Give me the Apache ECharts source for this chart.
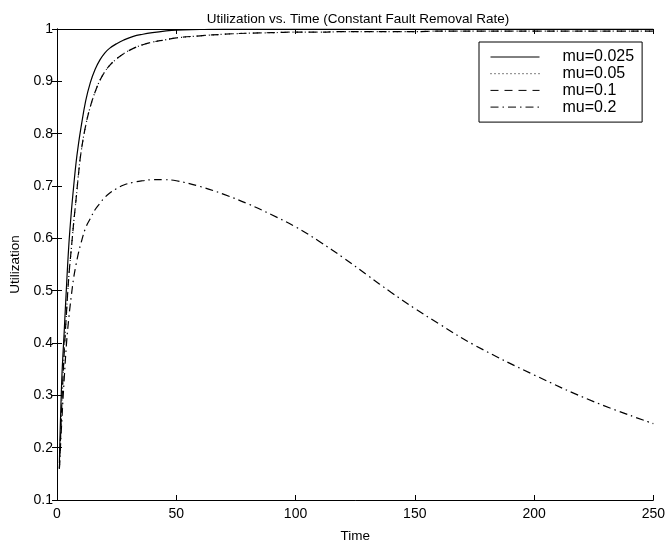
<!DOCTYPE html>
<html>
<head>
<meta charset="utf-8">
<script src="https://cdn.jsdelivr.net/npm/echarts@6/dist/echarts.min.js"></script>
<style>
html,body{margin:0;padding:0;background:#fff;}
#chart{width:668px;height:548px;}
</style>
</head>
<body>
<div id="chart"></div>
<script>
// ---- data ----
const time = [1, 2, 3, 4, 5, 6, 7, 8, 9, 10, 12, 14, 16, 18, 20, 22, 25, 28, 32, 36, 40, 45, 50, 60, 70, 80, 90, 100, 110, 120, 130, 140, 150, 160, 175, 200, 225, 250];
const mu0025 = [0.17, 0.33, 0.42, 0.51, 0.59, 0.65, 0.70, 0.745, 0.78, 0.81, 0.862, 0.898, 0.923, 0.941, 0.954, 0.963, 0.972, 0.979, 0.986, 0.990, 0.993, 0.996, 0.998, 0.999, 1.0, 1.0, 1.0, 1.0, 1.0, 1.0, 1.0, 1.0, 1.0, 1.0, 1.0, 1.0, 1.0, 1.0];
const mu005 = [0.16, 0.28, 0.38, 0.46, 0.53, 0.58, 0.63, 0.675, 0.722, 0.762, 0.815, 0.852, 0.880, 0.902, 0.918, 0.930, 0.943, 0.953, 0.963, 0.970, 0.975, 0.979, 0.983, 0.987, 0.990, 0.992, 0.993, 0.994, 0.994, 0.995, 0.995, 0.995, 0.995, 0.996, 0.996, 0.996, 0.996, 0.996];
const mu01 = [0.16, 0.28, 0.38, 0.46, 0.53, 0.58, 0.63, 0.675, 0.722, 0.762, 0.815, 0.852, 0.880, 0.902, 0.918, 0.930, 0.943, 0.953, 0.963, 0.970, 0.975, 0.979, 0.983, 0.987, 0.990, 0.992, 0.993, 0.994, 0.994, 0.995, 0.995, 0.995, 0.995, 0.996, 0.996, 0.996, 0.996, 0.996];
const mu02 = [0.16, 0.25, 0.33, 0.40, 0.45, 0.49, 0.525, 0.55, 0.572, 0.59, 0.62, 0.638, 0.655, 0.667, 0.678, 0.686, 0.695, 0.702, 0.707, 0.710, 0.712, 0.712, 0.710, 0.699, 0.684, 0.666, 0.645, 0.622, 0.594, 0.563, 0.530, 0.497, 0.466, 0.437, 0.396, 0.339, 0.288, 0.246];
const seriesNames = ['mu=0.025', 'mu=0.05', 'mu=0.1', 'mu=0.2'];
const xTicks = [0, 50, 100, 150, 200, 250];
const yTicks = [0.1, 0.2, 0.3, 0.4, 0.5, 0.6, 0.7, 0.8, 0.9, 1];

const FONT = '"Liberation Sans", Arial, Helvetica, sans-serif';
const pairs = arr => time.map((t, i) => [t, arr[i]]);
const styles = [
  {type: 'solid', width: 1.2},
  {type: [1, 3], width: 1.2},
  {type: [8, 6], width: 1.2},
  {type: [8, 4, 1.5, 4], width: 1.2}
];
const datasets = [mu0025, mu005, mu01, mu02];

const chart = echarts.init(document.getElementById('chart'), null, {renderer: 'canvas'});
const axisCommon = {
  axisLine: {show: true, lineStyle: {color: '#000', width: 1}},
  axisTick: {show: true, inside: true, length: 5, lineStyle: {color: '#000'}},
  splitLine: {show: false}
};
chart.setOption({
  animation: false,
  backgroundColor: '#fff',
  title: {
    text: 'Utilization vs. Time (Constant Fault Removal Rate)',
    left: 353, top: 7, textAlign: 'center',
    textStyle: {fontFamily: FONT, fontSize: 13.5, fontWeight: 'normal', color: '#000'}
  },
  legend: {
    data: seriesNames,
    orient: 'vertical',
    left: 479, top: 42,
    padding: [7, 8, 7, 11],
    itemWidth: 49, itemHeight: 10, itemGap: 0.7,
    borderColor: '#000', borderWidth: 1,
    backgroundColor: '#fff',
    itemStyle: {opacity: 0},
    lineStyle: {width: 1},
    textStyle: {fontFamily: FONT, fontSize: 16, color: '#000', lineHeight: 16, padding: [0, 0, 0, 18]}
  },
  grid: {left: 50, right: 11, top: 29, bottom: 37, containLabel: false},
  xAxis: [
    Object.assign({
      type: 'value', min: xTicks[0], max: xTicks[xTicks.length - 1], interval: 50,
      name: 'Time', nameLocation: 'middle', nameGap: 29,
      nameTextStyle: {fontFamily: FONT, fontSize: 13.5, color: '#000'},
      axisLabel: {fontFamily: FONT, fontSize: 14, color: '#000', margin: 7}
    }, axisCommon),
    Object.assign({
      type: 'value', position: 'top', min: 0, max: 250, interval: 50,
      axisLabel: {show: false}
    }, axisCommon)
  ],
  yAxis: [
    Object.assign({
      type: 'value', min: yTicks[0], max: yTicks[yTicks.length - 1], interval: 0.1,
      name: 'Utilization', nameLocation: 'middle', nameGap: 35, nameRotate: 90,
      nameTextStyle: {fontFamily: FONT, fontSize: 13.5, color: '#000'},
      axisLabel: {fontFamily: FONT, fontSize: 14, color: '#000', margin: 4,
        formatter: v => String(Math.round(v * 10) / 10)}
    }, axisCommon),
    Object.assign({
      type: 'value', position: 'right', min: 0.1, max: 1, interval: 0.1,
      axisLabel: {show: false}
    }, axisCommon)
  ],
  series: seriesNames.map((name, i) => ({
    name: name,
    type: 'line',
    xAxisIndex: 0, yAxisIndex: 0,
    data: pairs(datasets[i]),
    smooth: 0.4,
    symbol: 'none', showSymbol: false,
    color: '#000',
    lineStyle: {color: '#000', width: styles[i].width, type: styles[i].type},
    z: 2 + i
  }))
});
</script>
</body>
</html>
